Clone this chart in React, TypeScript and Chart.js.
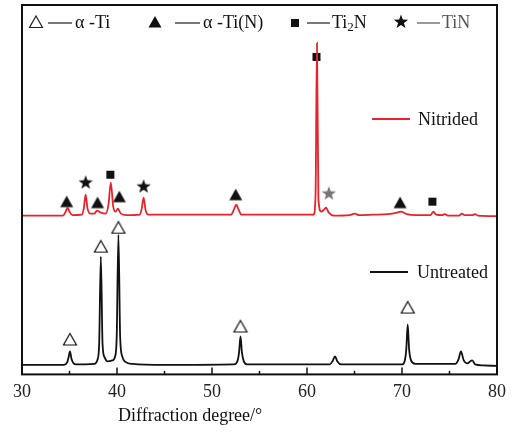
import React, { useEffect, useRef } from 'react';
import { Chart, registerables } from 'chart.js';
Chart.register(...registerables);

// Untreated (black) XRD curve: diffraction angle / intensity (a.u.)
const untreatedX = [30, 34.4, 34.75, 34.9, 35.05, 35.2, 35.4, 35.7, 37.6, 37.95, 38.12, 38.3, 38.48, 38.7, 39.0, 39.5, 39.8, 39.97, 40.15, 40.33, 40.55, 40.9, 41.6, 45, 52.3, 52.7, 52.85, 53.0, 53.15, 53.35, 53.7, 62.4, 62.7, 62.95, 63.2, 63.6, 70.0, 70.3, 70.45, 70.6, 70.75, 70.95, 71.4, 75.6, 75.95, 76.2, 76.5, 76.9, 77.15, 77.4, 77.7, 78.5, 80];
const untreatedY = [9.5, 9.5, 12, 17, 23, 16, 11.5, 10, 10.5, 15, 30, 118, 30, 17, 13, 14, 18, 38, 140, 38, 18, 12.5, 10.5, 9.5, 10, 14, 22, 38, 22, 13, 10, 10, 13.5, 18, 13, 10, 10, 14, 25, 50, 25, 14, 10.5, 10.5, 15, 23, 14, 11, 13, 14, 10, 9, 8.5];

// Nitrided (red) XRD curve
const nitridedX = [30, 34.3, 34.6, 34.8, 35.0, 35.3, 36.3, 36.5, 36.7, 36.9, 37.2, 37.6, 37.9, 38.3, 38.8, 39.1, 39.35, 39.6, 39.85, 40.1, 40.4, 41.0, 42.4, 42.6, 42.8, 43.0, 43.3, 52.0, 52.3, 52.55, 52.8, 53.1, 60.7, 60.9, 61.05, 61.2, 61.5, 61.8, 62.0, 62.3, 62.8, 64.5, 65.0, 65.5, 67.0, 68.5, 69.5, 69.9, 70.5, 71.5, 73.0, 73.3, 73.6, 74.2, 74.5, 74.9, 76.0, 76.3, 76.6, 77.4, 77.7, 78.0, 80];
const nitridedY = [159, 159, 163, 167, 163, 159.5, 160, 166, 180, 166, 161, 161, 164, 162, 161, 170, 192, 168, 163, 166, 161, 159.5, 160, 166, 177, 165, 160, 160, 165, 170, 165, 160, 160, 180, 332, 175, 163, 165, 167, 162, 159, 159.5, 161, 159.5, 160, 160.5, 162, 163, 160.5, 159.5, 159.5, 163, 160, 159.5, 160.5, 159, 159, 161, 159.5, 159.5, 160.5, 159, 158.5];

// Phase markers
const alphaTiX = [35.05, 38.3, 40.15, 53.0, 70.6];
const alphaTiY = [35, 128, 147, 48, 67];
const alphaTiNX = [34.7, 37.95, 40.25, 52.5, 69.8];
const alphaTiNY = [173, 172, 178, 180, 172];
const ti2nX = [39.3, 61.0, 73.2];
const ti2nY = [200, 318, 173];
const tinX = [36.7, 42.8];
const tinY = [192, 188];
const tinGreyX = [62.3];
const tinGreyY = [181];

const xTicks = [30, 40, 50, 60, 70, 80];
const minorTicks = [35, 45, 55, 65, 75];
const legendLabels = ['α -Ti', 'α -Ti(N)', 'Ti', 'TiN'];
const seriesLabels = ['Nitrided', 'Untreated'];
const axisTitle = 'Diffraction degree/°';

const FONT = '"Liberation Serif", "Times New Roman", serif';
const RED = '#e8232b';

const zip = (xs: number[], ys: number[]) => xs.map((x, i) => ({ x, y: ys[i] }));

function drawShape(ctx: CanvasRenderingContext2D, kind: string, cx: number, cy: number, color: string) {
  ctx.save();
  ctx.fillStyle = color;
  ctx.strokeStyle = color;
  if (kind === 'openTri' || kind === 'tri') {
    ctx.beginPath();
    ctx.moveTo(cx, cy - 6);
    ctx.lineTo(cx + 6.5, cy + 5.5);
    ctx.lineTo(cx - 6.5, cy + 5.5);
    ctx.closePath();
    if (kind === 'tri') ctx.fill();
    else { ctx.lineWidth = 1.2; ctx.stroke(); }
  } else if (kind === 'square') {
    ctx.fillRect(cx - 4, cy - 4, 8, 8);
  } else if (kind === 'star') {
    ctx.beginPath();
    for (let i = 0; i < 10; i++) {
      const r = i % 2 === 0 ? 7.5 : 3.1;
      const a = -Math.PI / 2 + (i * Math.PI) / 5;
      const px = cx + r * Math.cos(a);
      const py = cy + r * Math.sin(a);
      if (i === 0) ctx.moveTo(px, py); else ctx.lineTo(px, py);
    }
    ctx.closePath();
    ctx.fill();
  }
  ctx.restore();
}

function makeMarker(kind: string, color: string): HTMLCanvasElement {
  const c = document.createElement('canvas');
  c.width = 18; c.height = 18;
  const ctx = c.getContext('2d')!;
  drawShape(ctx, kind, 9, 9, color);
  return c;
}

export default function App() {
  const ref = useRef<HTMLCanvasElement>(null);
  useEffect(() => {
    const openTri = makeMarker('openTri', '#111');
    const tri = makeMarker('tri', '#111');
    const square = makeMarker('square', '#111');
    const star = makeMarker('star', '#111');
    const starGrey = makeMarker('star', '#777');

    const decor = {
      id: 'decor',
      afterDraw(chart: any) {
        const { ctx, chartArea: a, scales } = chart;
        const xs = scales.x;
        ctx.save();
        // inner ticks
        ctx.strokeStyle = '#111';
        ctx.lineWidth = 1.5;
        xTicks.forEach((v) => {
          const px = xs.getPixelForValue(v);
          ctx.beginPath(); ctx.moveTo(px, a.bottom); ctx.lineTo(px, a.bottom - 7); ctx.stroke();
        });
        minorTicks.forEach((v) => {
          const px = xs.getPixelForValue(v);
          ctx.beginPath(); ctx.moveTo(px, a.bottom); ctx.lineTo(px, a.bottom - 3.5); ctx.stroke();
        });
        // frame
        ctx.lineWidth = 2;
        ctx.strokeStyle = '#111';
        ctx.strokeRect(a.left, a.top, a.right - a.left, a.bottom - a.top);

        // top legend
        ctx.font = '18px ' + FONT;
        ctx.textBaseline = 'middle';
        ctx.fillStyle = '#111';
        const ly = 22;
        const seg = (x1: number, x2: number, y: number, color: string, w: number) => {
          ctx.strokeStyle = color; ctx.lineWidth = w;
          ctx.beginPath(); ctx.moveTo(x1, y); ctx.lineTo(x2, y); ctx.stroke();
        };
        drawShape(ctx, 'openTri', 36, ly, '#222');
        seg(48, 72, ly + 1, '#222', 1.2);
        ctx.fillText(legendLabels[0], 75, ly + 1);
        drawShape(ctx, 'tri', 155, ly, '#111');
        seg(175, 200, ly + 1, '#222', 1.2);
        ctx.fillText(legendLabels[1], 203, ly + 1);
        drawShape(ctx, 'square', 295, ly + 1, '#111');
        seg(307, 330, ly + 1, '#222', 1.2);
        ctx.fillText(legendLabels[2], 332, ly + 1);
        const w1 = ctx.measureText(legendLabels[2]).width;
        ctx.font = '13px ' + FONT;
        ctx.fillText('2', 332 + w1, ly + 6);
        const w2 = ctx.measureText('2').width;
        ctx.font = '18px ' + FONT;
        ctx.fillText('N', 332 + w1 + w2, ly + 1);
        drawShape(ctx, 'star', 401, ly, '#111');
        seg(417, 440, ly + 1, '#555', 1.2);
        ctx.fillStyle = '#555';
        ctx.fillText(legendLabels[3], 442, ly + 1);

        // series labels
        ctx.fillStyle = '#111';
        seg(372, 410, 119, RED, 1.8);
        ctx.fillText(seriesLabels[0], 418, 120);
        seg(370, 408, 272, '#111', 1.8);
        ctx.fillText(seriesLabels[1], 417, 273);

        // axis title
        ctx.textBaseline = 'middle';
        ctx.fillText(axisTitle, 118, 416);
        ctx.restore();
      },
    };

    const chart = new Chart(ref.current!, {
      type: 'scatter',
      data: {
        datasets: [
          { data: zip(untreatedX, untreatedY), showLine: true, borderColor: '#111', borderWidth: 1.8, pointRadius: 0, cubicInterpolationMode: 'monotone' } as any,
          { data: zip(nitridedX, nitridedY), showLine: true, borderColor: RED, borderWidth: 1.8, pointRadius: 0, cubicInterpolationMode: 'monotone' } as any,
          { data: zip(alphaTiX, alphaTiY), pointStyle: openTri } as any,
          { data: zip(alphaTiNX, alphaTiNY), pointStyle: tri } as any,
          { data: zip(ti2nX, ti2nY), pointStyle: square } as any,
          { data: zip(tinX, tinY), pointStyle: star } as any,
          { data: zip(tinGreyX, tinGreyY), pointStyle: starGrey } as any,
        ],
      },
      options: {
        animation: false,
        responsive: true,
        maintainAspectRatio: false,
        layout: { padding: { left: 22, right: 14, top: 5, bottom: 22 } },
        plugins: { legend: { display: false }, tooltip: { enabled: false } },
        events: [],
        scales: {
          x: {
            type: 'linear',
            min: 30,
            max: 80,
            grid: { display: false, drawTicks: false },
            border: { display: false },
            ticks: {
              stepSize: 10,
              padding: 7,
              color: '#222',
              font: { family: FONT, size: 18 },
            },
            afterBuildTicks: (s: any) => { s.ticks = xTicks.map((v) => ({ value: v })); },
          },
          y: { display: false, min: 0, max: 370 },
        },
      } as any,
      plugins: [decor],
    });
    return () => chart.destroy();
  }, []);
  return (
    <div style={{ position: 'fixed', left: 0, top: 0, width: 513, height: 432, background: '#fff' }}>
      <canvas ref={ref} />
    </div>
  );
}
